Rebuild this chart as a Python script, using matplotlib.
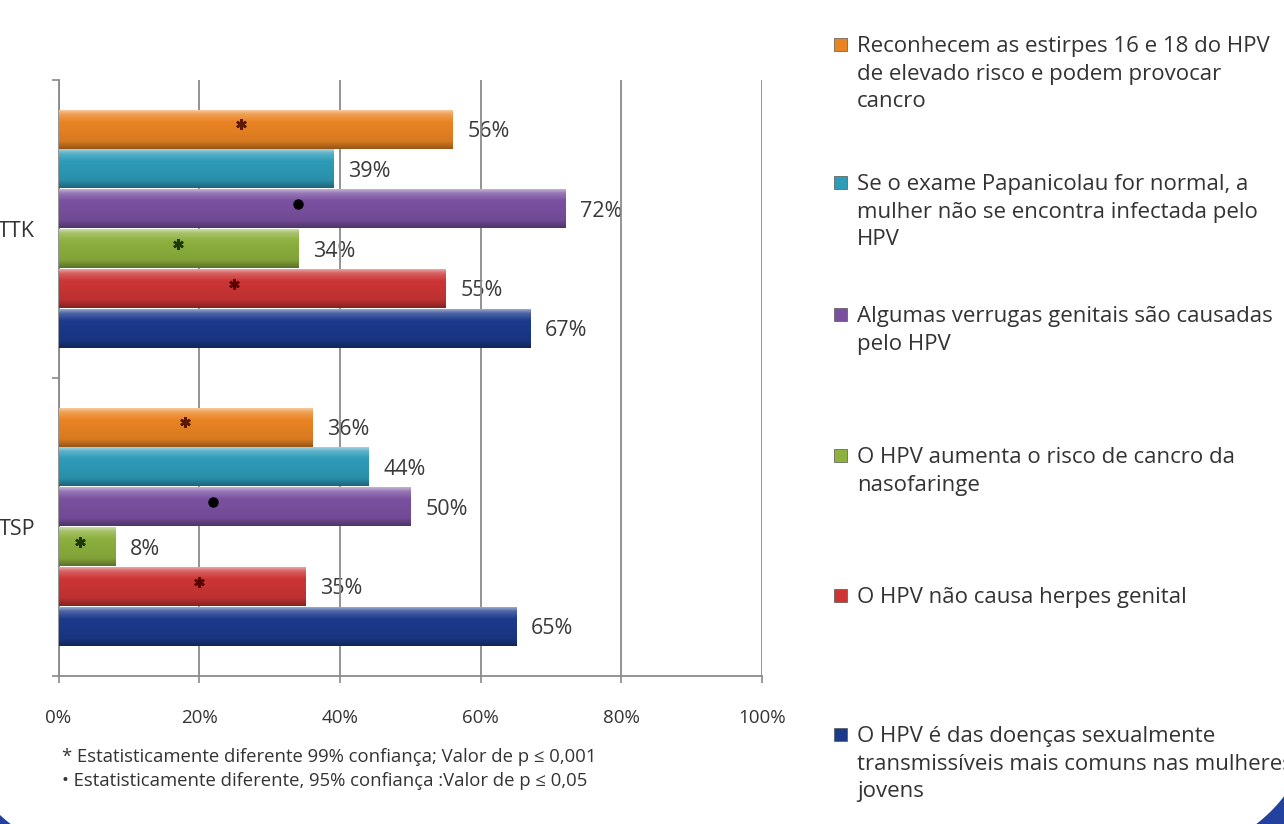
import numpy as np
import matplotlib
matplotlib.use('Agg')
import matplotlib.pyplot as plt
from matplotlib.colors import to_rgb
from matplotlib.patches import Polygon, Rectangle
from matplotlib.transforms import IdentityTransform

plt.rcParams['font.family'] = ['Open Sans', 'DejaVu Sans']

# dados (percentagens)
categories = ['TSP', 'TTK']
series_labels = [
    'Reconhecem as estirpes 16 e 18 do HPV\nde elevado risco e podem provocar\ncancro',
    'Se o exame Papanicolau for normal, a\nmulher não se encontra infectada pelo\nHPV',
    'Algumas verrugas genitais são causadas\npelo HPV',
    'O HPV aumenta o risco de cancro da\nnasofaringe',
    'O HPV não causa herpes genital',
    'O HPV é das doenças sexualmente\ntransmissíveis mais comuns nas mulheres\njovens',
]
series_colors = ['#EA8423', '#2E9CB9', '#7A51A1', '#8DB03E', '#CD3535', '#1B3A8C']
values_ttk = [56, 39, 72, 34, 55, 67]
values_tsp = [36, 44, 50, 8, 35, 65]

# marcas de significância dentro das barras
sig_marks = ['*', '', '•', '*', '*', '']
sig_colors = ['#5a1a00', None, '#000000', '#1f3a0a', '#5a0000', None]
sig_x_ttk = [26, None, 34, 17, 25, None]
sig_x_tsp = [18, None, 22, 3, 20, None]

x_ticks = [0, 20, 40, 60, 80, 100]
footnotes = ['* Estatisticamente diferente 99% confiança; Valor de p ≤ 0,001',
             '• Estatisticamente diferente, 95% confiança :Valor de p ≤ 0,05']

W, H = 1284, 824


def gradient(col, n=64):
    base = np.array(to_rgb(col))
    t = np.linspace(0, 1, n)
    k = np.interp(t, [0, 0.1, 0.3, 0.8, 1], [0.55, 0.22, 0.0, -0.08, -0.35])[:, None]
    rows = np.where(k > 0, base + (1 - base) * k, base * (1 + k))
    return np.clip(rows, 0, 1)[:, None, :]


def corner(cx, cy, r, a0, a1, px, py):
    # zona azul fora do arco, em pixels (origem em cima à esquerda)
    a = np.radians(np.linspace(a0, a1, 60))
    pts = [(cx + r * np.cos(t), H - (cy + r * np.sin(t))) for t in a]
    pts.append((px, H - py))
    return Polygon(pts, closed=True, transform=IdentityTransform(),
                   facecolor='#2342a0', edgecolor='none', zorder=-5)


fig = plt.figure(figsize=(W / 100, H / 100), dpi=100, facecolor='white')
fig.add_artist(corner(1165, 705, 150, 0, 90, 1315, 855))
fig.add_artist(corner(102, 705, 150, 90, 180, -48, 855))

ax = fig.add_axes([58.5 / W, 1 - 676 / H, (762 - 58.5) / W, (676 - 80) / H])
ax.set_facecolor('none')

step = 0.134
ypos = np.arange(len(categories))
for i, col in enumerate(series_colors):
    off = (2.5 - i) * step
    vals = [values_tsp[i], values_ttk[i]]
    bars = ax.barh(ypos + off, vals, height=step * 0.97, color=col, zorder=3)
    for b, v in zip(bars, vals):
        x0, y0, w, h = b.get_x(), b.get_y(), b.get_width(), b.get_height()
        ax.imshow(gradient(col), extent=[x0, x0 + w, y0, y0 + h], aspect='auto',
                  interpolation='bilinear', zorder=3.1)
        ax.annotate(f'{v}%', xy=(v, y0 + h / 2), xytext=(11, -1.5), textcoords='offset points',
                    va='center', ha='left', fontsize=15.5, color='#3a3a3a', zorder=1)
    if sig_marks[i]:
        xs = [sig_x_tsp[i], sig_x_ttk[i]]
        ys = ypos + off + 0.018
        if sig_marks[i] == '*':
            ax.plot(xs, ys, ls='none', marker=(6, 2, 0), ms=7.5, mew=1.8,
                    color=sig_colors[i], zorder=4)
        else:
            ax.plot(xs, ys, ls='none', marker='o', ms=6.5, color=sig_colors[i], zorder=4)

ax.set_xlim(0, 100)
ax.set_ylim(-0.5, 1.5)
ax.set_xticks(x_ticks)
ax.set_xticklabels([f'{t}%' for t in x_ticks], fontsize=13.5, color='#333333')
ax.set_yticks([-0.5, 0.5, 1.5])
ax.set_yticklabels([])
ax.set_yticks(ypos, minor=True)
ax.set_yticklabels(categories, minor=True, fontsize=15.5, color='#333333')
ax.tick_params(axis='x', length=5, pad=19, color='#8a8a8a', width=1.2)
ax.tick_params(axis='y', which='major', length=5, color='#8a8a8a', width=1.2)
ax.tick_params(axis='y', which='minor', length=0, pad=17)
ax.set_axisbelow(False)
ax.grid(axis='x', color='#8a8a8a', lw=1.3)
for s in ['top', 'right']:
    ax.spines[s].set_visible(False)
for s in ['left', 'bottom']:
    ax.spines[s].set_color('#8a8a8a')
    ax.spines[s].set_linewidth(1.3)

# notas de rodapé
for j, txt in enumerate(footnotes):
    fig.text(62 / W, 1 - (757 + 24 * j) / H, txt, fontsize=13.3, color='#333333', va='center')

# legenda à direita
leg_centers = [45, 183, 315, 456, 596, 735]
for lab, col, c in zip(series_labels, series_colors, leg_centers):
    sq = Rectangle((834 / W, 1 - (c + 6) / H), 13 / W, 13 / H, transform=fig.transFigure,
                   facecolor=col, edgecolor='#555555', lw=0.5)
    fig.add_artist(sq)
    fig.text(857 / W, 1 - (c - 9) / H, lab, fontsize=16, color='#333333', va='top',
             ha='left', linespacing=1.42)

fig.savefig('out.png', dpi=100)
